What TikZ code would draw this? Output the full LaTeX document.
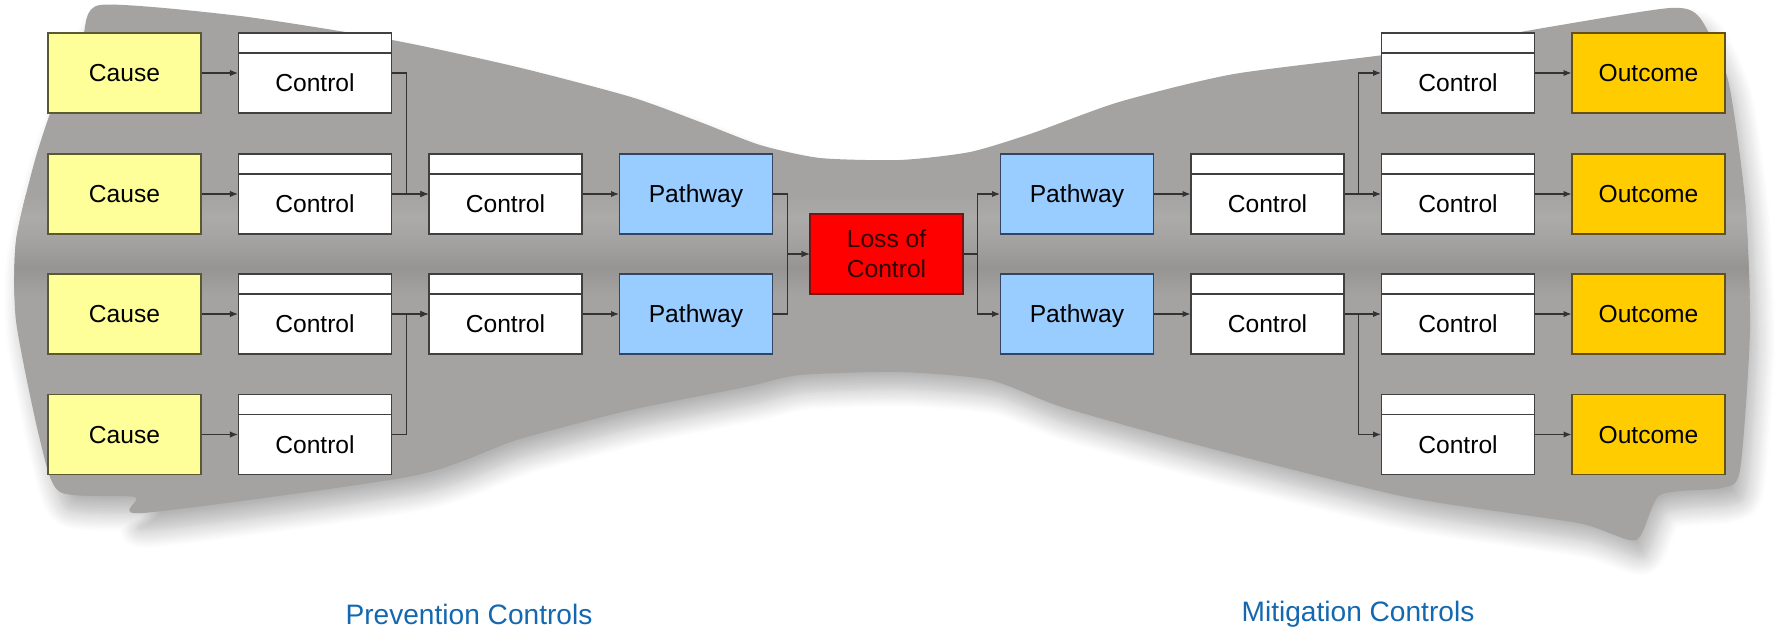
\documentclass[tikz,border=0pt]{standalone}
\usepackage{fontspec}
\setmainfont{Liberation Sans}
\usepackage{tikz}
\usetikzlibrary{arrows.meta,shadows.blur}

\definecolor{bowgray}{RGB}{164,163,161}
\definecolor{causeyellow}{RGB}{255,255,153}
\definecolor{causeedge}{RGB}{90,90,50}
\definecolor{pathblue}{RGB}{153,204,255}
\definecolor{pathedge}{RGB}{50,70,100}
\definecolor{outcomegold}{RGB}{255,204,0}
\definecolor{outcomeedge}{RGB}{100,80,20}
\definecolor{lossred}{RGB}{255,0,0}
\definecolor{lossedge}{RGB}{120,20,20}
\definecolor{losstext}{RGB}{50,0,0}
\definecolor{capblue}{RGB}{20,104,176}

\begin{document}
\begin{tikzpicture}[x = 0.02cm, y = -0.02cm,
		box/.style = {draw = black!75, line width = 0.7pt, minimum width = 3.06cm, minimum height = 1.6cm, inner sep = 0, font = \fontsize{14}{17}\selectfont},
		onerow/.style = {box, text height = 11.2pt, text depth = 1.4pt},
		cause/.style = {onerow, fill = causeyellow, draw = causeedge},
		ctrl/.style = {box, fill = white, text height = 22.6pt, text depth = 1.4pt, path picture = {\draw[black!75, line width = 0.7pt] ([yshift = -0.4cm]path picture bounding box.north west) -- ([yshift = -0.4cm]path picture bounding box.north east);}},
		pathway/.style = {onerow, fill = pathblue, draw = pathedge},
		outcome/.style = {onerow, fill = outcomegold, draw = outcomeedge},
		loss/.style = {box, fill = lossred, draw = lossedge, text = losstext, align = center},
		flow/.style = {draw = black!80, line width = 0.6pt, -{Latex[length = 4.5pt, width = 3.6pt]}},
		caption/.style = {text = capblue, font = \fontsize{16}{19}\selectfont}]
			\useasboundingbox (0,0) rectangle (1789,629);
			
			% the bow tie behind the boxes
			\def\bowtie{plot[smooth cycle, tension = 0.4] coordinates {(100,5) (240,16) (392,40) (517,67) (631,97) (700,122) (760,145) (820,158) (900,160) (970,152) (1033,133) (1119,102) (1234,74) (1406,52) (1549,27) (1670,8) (1700,18) (1728,80) (1745,200) (1750,330) (1740,470) (1722,488) (1660,495) (1636,540) (1578,523) (1406,497) (1205,447) (1062,407) (990,380) (900,372) (800,375) (746,387) (631,410) (517,440) (413,476) (143,513) (135,497) (60,492) (40,440) (16,321) (16,241) (35,160) (55,100) (82,40)}}
			\fill[bowgray, blur shadow = {shadow xshift = 0.15cm, shadow yshift = -0.35cm, shadow opacity = 30, shadow blur radius = 0.35cm, shadow blur steps = 12}] \bowtie;
			\begin{scope}
				\clip \bowtie;
				\shade[top color = bowgray, bottom color = bowgray, middle color = bowgray!92!white] (0,195) rectangle (1789,240); % light fold
				\shade[top color = bowgray, bottom color = bowgray, middle color = bowgray!91!black] (0,240) rectangle (1789,295); % dark fold
			\end{scope}
			
			% prevention side
			\node[cause] (c1) at (124.5,73){Cause};
			\node[cause] (c2) at (124.5,194){Cause};
			\node[cause] (c3) at (124.5,314){Cause};
			\node[cause] (c4) at (124.5,434.5){Cause};
			
			\node[ctrl] (pa1) at (315,73){Control};
			\node[ctrl] (pa2) at (315,194){Control};
			\node[ctrl] (pa3) at (315,314){Control};
			\node[ctrl] (pa4) at (315,434.5){Control};
			
			\node[ctrl] (pb2) at (505.5,194){Control};
			\node[ctrl] (pb3) at (505.5,314){Control};
			
			\node[pathway] (pw2) at (696,194){Pathway};
			\node[pathway] (pw3) at (696,314){Pathway};
			
			\node[loss] (loss) at (886.5,254){Loss of\\Control};
			
			% mitigation side
			\node[pathway] (mw2) at (1077,194){Pathway};
			\node[pathway] (mw3) at (1077,314){Pathway};
			
			\node[ctrl] (ma2) at (1267.5,194){Control};
			\node[ctrl] (ma3) at (1267.5,314){Control};
			
			\node[ctrl] (mb1) at (1458,73){Control};
			\node[ctrl] (mb2) at (1458,194){Control};
			\node[ctrl] (mb3) at (1458,314){Control};
			\node[ctrl] (mb4) at (1458,434.5){Control};
			
			\node[outcome] (o1) at (1648.5,73){Outcome};
			\node[outcome] (o2) at (1648.5,194){Outcome};
			\node[outcome] (o3) at (1648.5,314){Outcome};
			\node[outcome] (o4) at (1648.5,434.5){Outcome};
			
			\node[caption] (prev) at (469,614){Prevention Controls};
			\node[caption] (miti) at (1358,614){Mitigation Controls};
			
			% connectors
			\draw[flow] (c1) -- (pa1);
			\draw[flow] (c2) -- (pa2);
			\draw[flow] (c3) -- (pa3);
			\draw[flow] (c4) -- (pa4);
			
			\draw[flow] (pa1.east) -- ++(0.28cm,0) |- (pb2.west);
			\draw[flow] (pa2) -- (pb2);
			\draw[flow] (pa3) -- (pb3);
			\draw[flow] (pa4.east) -- ++(0.28cm,0) |- (pb3.west);
			
			\draw[flow] (pb2) -- (pw2);
			\draw[flow] (pb3) -- (pw3);
			
			\draw[flow] (pw2.east) -- ++(0.28cm,0) |- (loss.west);
			\draw[flow] (pw3.east) -- ++(0.28cm,0) |- (loss.west);
			
			\draw[flow] (loss.east) -- ++(0.28cm,0) |- (mw2.west);
			\draw[flow] (loss.east) -- ++(0.28cm,0) |- (mw3.west);
			
			\draw[flow] (mw2) -- (ma2);
			\draw[flow] (mw3) -- (ma3);
			
			\draw[flow] (ma2.east) -- ++(0.28cm,0) |- (mb1.west);
			\draw[flow] (ma2) -- (mb2);
			\draw[flow] (ma3) -- (mb3);
			\draw[flow] (ma3.east) -- ++(0.28cm,0) |- (mb4.west);
			
			\draw[flow] (mb1) -- (o1);
			\draw[flow] (mb2) -- (o2);
			\draw[flow] (mb3) -- (o3);
			\draw[flow] (mb4) -- (o4);
		\end{tikzpicture}
\end{document}
